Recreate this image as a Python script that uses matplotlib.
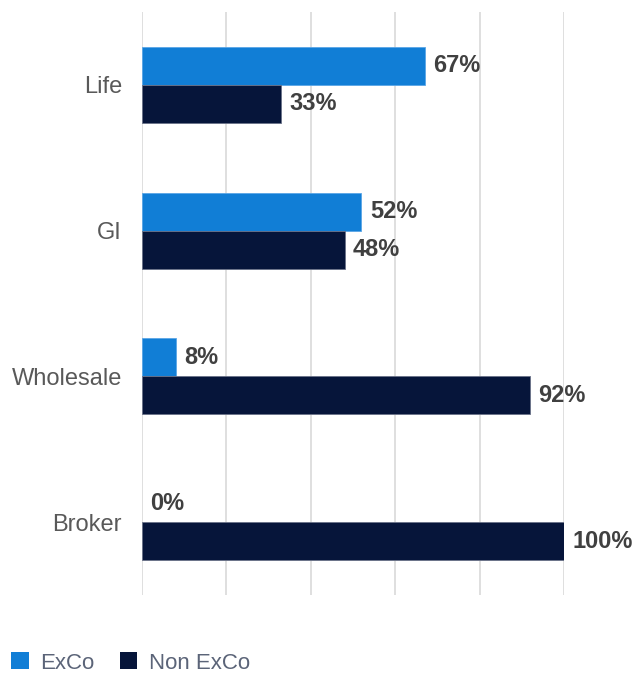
import matplotlib
matplotlib.use("Agg")
import matplotlib.pyplot as plt
from matplotlib.patches import Patch
import numpy as np

categories = ["Life", "GI", "Wholesale", "Broker"]
exco = [67, 52, 8, 0]
non_exco = [33, 48, 92, 100]
series_names = ["ExCo", "Non ExCo"]

c_exco = "#117ed6"
c_non = "#06153a"

plt.rcParams["font.family"] = ["Liberation Sans", "DejaVu Sans"]

fig = plt.figure(figsize=(6.35, 6.74), dpi=100)
ax = fig.add_axes([142/635, 1-595/674, (564-142)/635, (595-12)/674])

y = np.arange(len(categories))
h = 0.26
ax.barh(y - h/2, exco, height=h, color=c_exco, edgecolor="#5aa6e6",
        linewidth=[0.6 if v > 0 else 0 for v in exco], zorder=3)
ax.barh(y + h/2, non_exco, height=h, color=c_non, edgecolor="#6a7288",
        linewidth=[0.6 if v > 0 else 0 for v in non_exco], zorder=3)

for yi, v in zip(y, exco):
    ax.annotate(f"{v}%", (v, yi - h/2), xytext=(6, 0), textcoords="offset points",
                ha="left", va="center", fontsize=17, fontweight="bold", color="#404040",
                annotation_clip=False)
for yi, v in zip(y, non_exco):
    ax.annotate(f"{v}%", (v, yi + h/2), xytext=(6, 0), textcoords="offset points",
                ha="left", va="center", fontsize=17, fontweight="bold", color="#404040",
                annotation_clip=False)

ax.set_xlim(0, 100)
ax.set_ylim(len(categories) - 0.5, -0.5)
ax.set_xticks([0, 20, 40, 60, 80, 100])
ax.set_xticklabels([])
ax.tick_params(axis="x", length=0)
ax.set_yticks(y)
ax.set_yticklabels(categories, fontsize=17, color="#595959")
ax.tick_params(axis="y", length=0, pad=14.4)
ax.grid(axis="x", color="#d9d9d9", linewidth=1.2, zorder=0)
for s in ax.spines.values():
    s.set_visible(False)

handles = [Patch(facecolor=c_exco), Patch(facecolor=c_non)]
fig.legend(handles, series_names, loc="center left", bbox_to_anchor=(11/635, 1-663/674),
           ncol=2, frameon=False, fontsize=16, labelcolor="#5b6478",
           handlelength=0.8, handleheight=0.8, handletextpad=0.5, columnspacing=1.15,
           borderpad=0, borderaxespad=0)

fig.savefig("out.png", dpi=100)
